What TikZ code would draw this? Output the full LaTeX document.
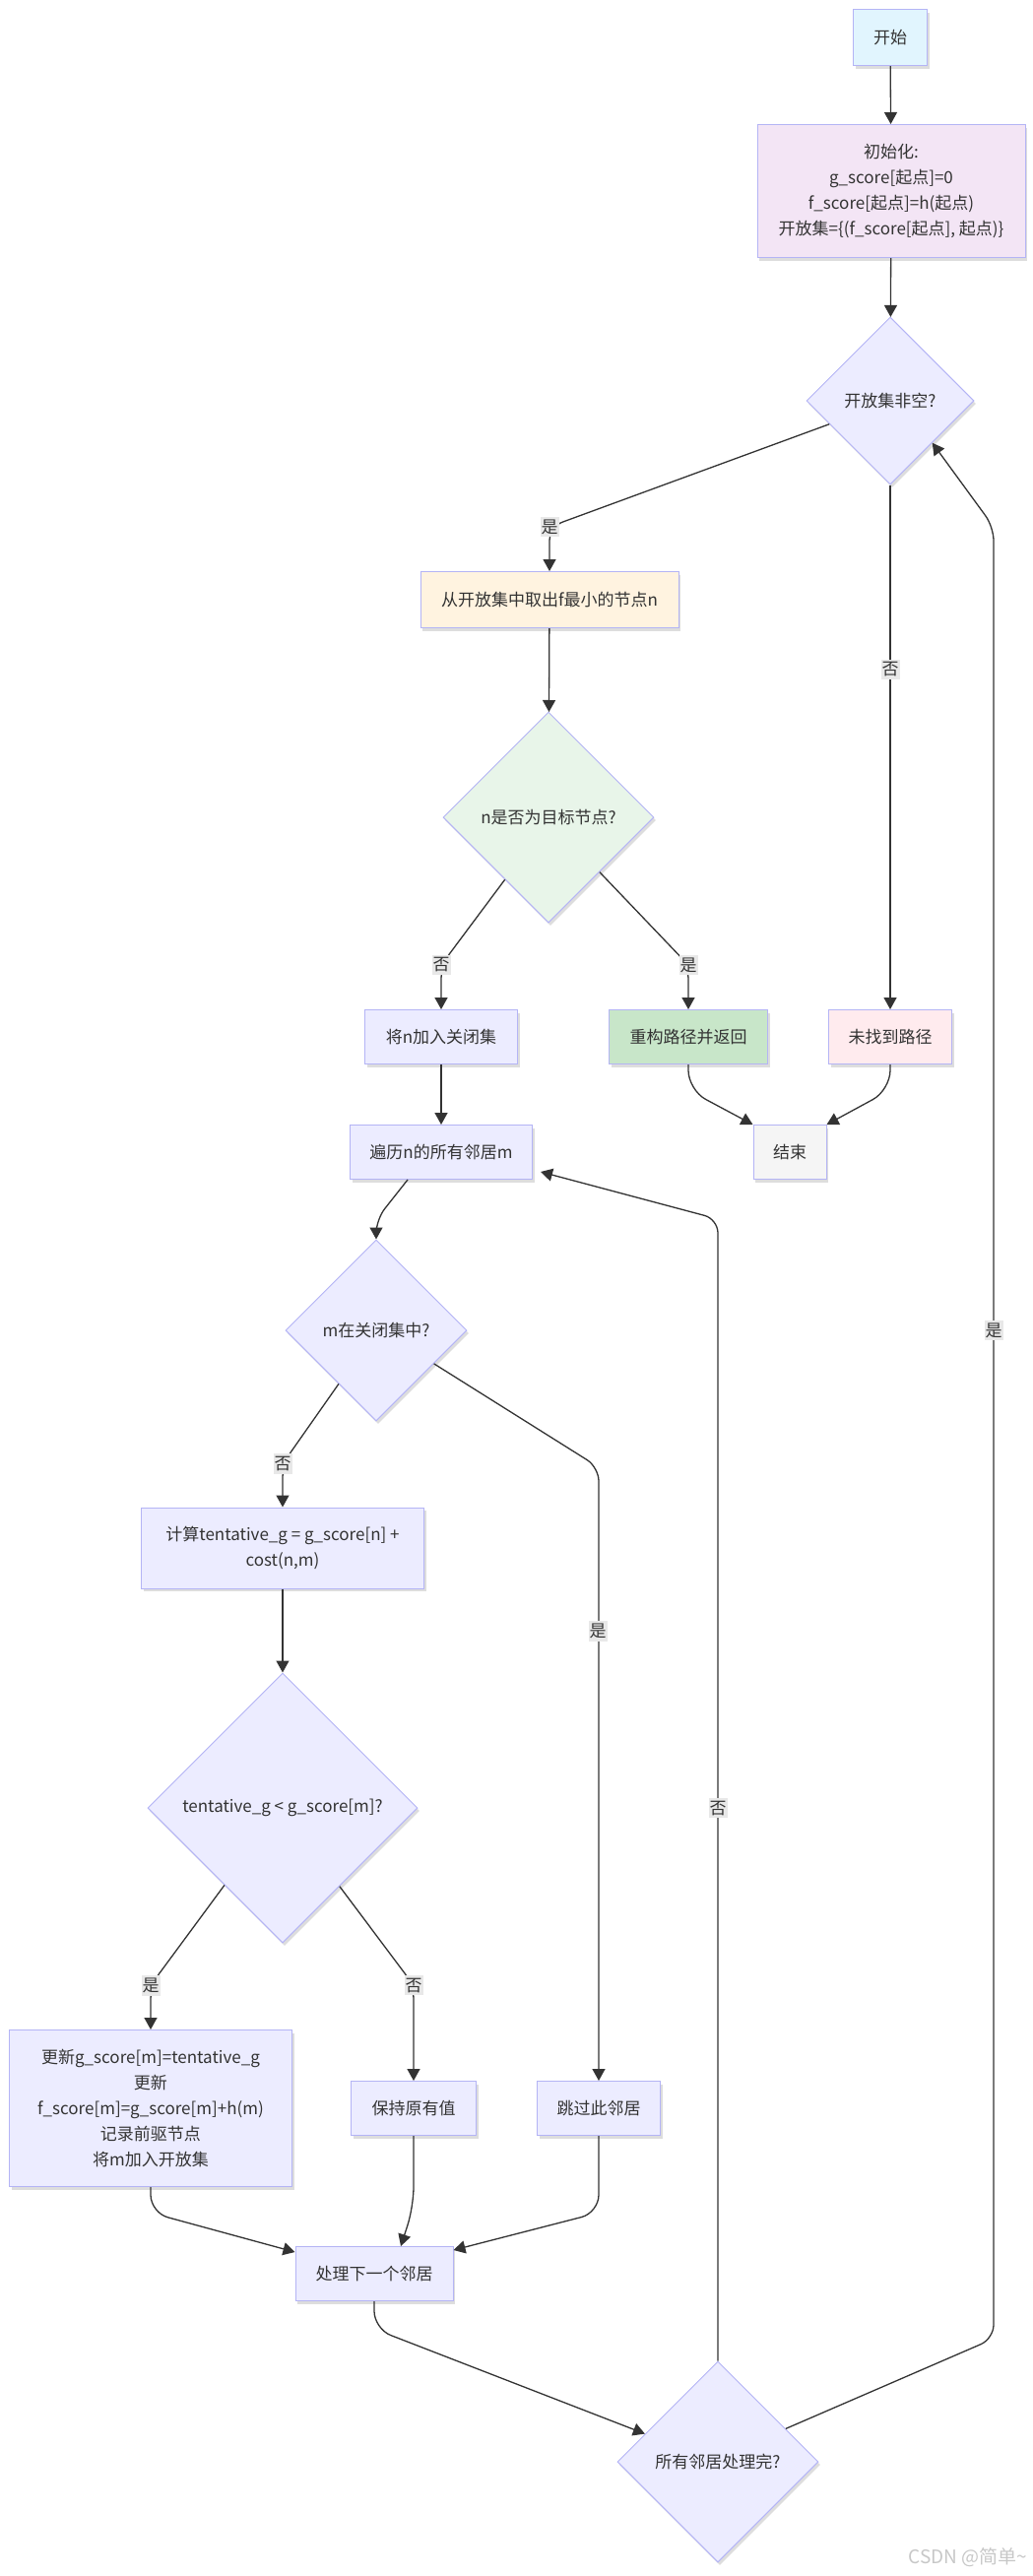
\documentclass[tikz,border=0pt]{standalone}
\usepackage{fontspec}
\setmainfont{Noto Sans CJK SC}
\usetikzlibrary{shapes.geometric,arrows.meta,shadows,calc}
\definecolor{bd}{RGB}{180,180,245}
\definecolor{ln}{HTML}{333333}
\definecolor{txt}{HTML}{333333}
\definecolor{lg}{HTML}{E8E8E8}
\definecolor{cstart}{HTML}{E1F5FE}
\definecolor{cinit}{HTML}{F3E5F5}
\definecolor{cdef}{HTML}{ECECFF}
\definecolor{ctake}{HTML}{FFF3E0}
\definecolor{cdtwo}{HTML}{E8F5E9}
\definecolor{creb}{HTML}{C8E6C9}
\definecolor{cnf}{HTML}{FFEBEE}
\definecolor{cfin}{HTML}{F5F5F5}
\begin{document}
\begin{tikzpicture}[x=1pt,y=-1pt,
  font=\fontsize{17}{26}\selectfont,
  box/.style={draw=bd, line width=1pt, align=center, inner sep=0pt, text=txt,
    drop shadow={shadow xshift=2pt,shadow yshift=-3pt,opacity=0.22,fill=black!60}},
  dia/.style={box, diamond, aspect=1},
  arr/.style={draw=ln, line width=1.3pt, -{Triangle[length=12pt,width=13pt]}, rounded corners=14pt},
  lbl/.style={fill=lg, inner xsep=1pt, inner ysep=3pt, text=txt}]
\useasboundingbox (0,0) rectangle (1049,2616);

% nodes
\node[box, fill=cstart, minimum width=75pt, minimum height=57pt] (start) at (904,38) {开始};
\node[box, fill=cinit, minimum width=272pt, minimum height=135pt] (init) at (905,194)
  {初始化:\\g\_score[起点]=0\\f\_score[起点]=h(起点)\\开放集=\{(f\_score[起点], 起点)\}};
\node[dia, fill=cdef, minimum width=170pt, minimum height=170pt] (d1) at (904,407) {开放集非空?};
\node[box, fill=ctake, minimum width=262pt, minimum height=57pt] (take) at (558,609) {从开放集中取出f最小的节点n};
\node[dia, fill=cdtwo, minimum width=214pt, minimum height=214pt] (d2) at (557,830) {n是否为目标节点?};
\node[box, fill=cdef, minimum width=155pt, minimum height=55pt] (close) at (448,1053) {将n加入关闭集};
\node[box, fill=creb, minimum width=161pt, minimum height=55pt] (rebuild) at (699,1053) {重构路径并返回};
\node[box, fill=cnf, minimum width=125pt, minimum height=55pt] (notfound) at (904,1053) {未找到路径};
\node[box, fill=cfin, minimum width=74pt, minimum height=55pt] (fin) at (802,1170) {结束};
\node[box, fill=cdef, minimum width=185pt, minimum height=55pt] (traverse) at (448,1170) {遍历n的所有邻居m};
\node[dia, fill=cdef, minimum width=184pt, minimum height=184pt] (d3) at (382,1351) {m在关闭集中?};
\node[box, fill=cdef, minimum width=287pt, minimum height=82pt] (calc) at (287,1572)
  {计算tentative\_g = g\_score[n] +\\cost(n,m)};
\node[dia, fill=cdef, minimum width=274pt, minimum height=274pt] (d4) at (287,1836) {tentative\_g < g\_score[m]?};
\node[box, fill=cdef, minimum width=287pt, minimum height=159pt] (update) at (153,2141)
  {更新g\_score[m]=tentative\_g\\更新\\f\_score[m]=g\_score[m]+h(m)\\记录前驱节点\\将m加入开放集};
\node[box, fill=cdef, minimum width=127pt, minimum height=55pt] (keep) at (420,2141) {保持原有值};
\node[box, fill=cdef, minimum width=125pt, minimum height=55pt] (skip) at (608,2141) {跳过此邻居};
\node[box, fill=cdef, minimum width=160pt, minimum height=55pt] (next) at (380,2309) {处理下一个邻居};
\node[dia, fill=cdef, minimum width=204pt, minimum height=204pt] (d5) at (729,2500) {所有邻居处理完?};

\coordinate (lpB) at (1009,2375);
\coordinate (lpT) at (1009,535);

% edges
\draw[arr] (start) -- (init);
\draw[arr] (init) -- (d1);
\draw[arr] (d1.201) -- ([yshift=45pt]take.north) -- (take.north);
\draw[arr] (take) -- (d2);
\draw[arr] (d1.south) -- (notfound.north);
\draw[arr] (d2.235) -- ([yshift=45pt]close.north) -- (close.north);
\draw[arr] (d2.313) -- ([yshift=45pt]rebuild.north) -- (rebuild.north);
\draw[arr, rounded corners=20pt] (rebuild.south) -- ([yshift=-26pt]rebuild.south) -- (fin.north west);
\draw[arr, rounded corners=20pt] (notfound.south) -- ([yshift=-26pt]notfound.south) -- (fin.north east);
\draw[arr] (close) -- (traverse);
\draw[arr] ([xshift=-34pt]traverse.south) -- ([yshift=20pt]d3.north) -- (d3.north);
\draw[arr] (d3.235) -- ([yshift=44pt]calc.north) -- (calc.north);
\draw[arr] (d3.330) -- ([yshift=623pt]skip.north) -- (skip.north);
\draw[arr] (calc) -- (d4);
\draw[arr] (d4.233) -- ([yshift=45pt]update.north) -- (update.north);
\draw[arr] (d4.306) -- ([yshift=97pt]keep.north) -- (keep.north);
\draw[arr, rounded corners=18pt] (update.south) -- ([yshift=-26pt]update.south) -- ([yshift=-6pt]next.north west);
\draw[arr, rounded corners=20pt] (keep.south) -- ([yshift=-72pt]keep.south) -- ([xshift=27pt]next.north);
\draw[arr, rounded corners=18pt] (skip.south) -- ([yshift=-78pt]skip.south) -- ([yshift=-4pt]next.north east);
\draw[arr, rounded corners=18pt] (next.south) -- ([yshift=-28pt]next.south) -- (d5.159);
\draw[arr] (d5.north) -- ($(d5.north |- traverse.south)+(0pt,-40pt)$) -- ([xshift=8pt,yshift=-20pt]traverse.east);
\draw[arr] (d5.26) -- (lpB) -- (lpT) -- (d1.south east);

% labels
\node[lbl] (l1) at ([yshift=45pt]take.north) {是};
\node[lbl] (l2) at (904,680) {否};
\node[lbl] (l3) at ([yshift=45pt]close.north) {否};
\node[lbl] (l4) at ([yshift=45pt]rebuild.north) {是};
\node[lbl] (l5) at ([yshift=44pt]calc.north) {否};
\node[lbl] (l6) at (607,1656) {是};
\node[lbl] (l7) at ([yshift=45pt]update.north) {是};
\node[lbl] (l8) at ([yshift=97pt]keep.north) {否};
\node[lbl] (l9) at (d5.north |- d4) {否};
\node[lbl] (l10) at (lpB |- d3) {是};

\node[anchor=east, text=black!22, font=\fontsize{19}{22}\selectfont] (wm) at (1047,2597) {CSDN @简单\textasciitilde};
\end{tikzpicture}
\end{document}
